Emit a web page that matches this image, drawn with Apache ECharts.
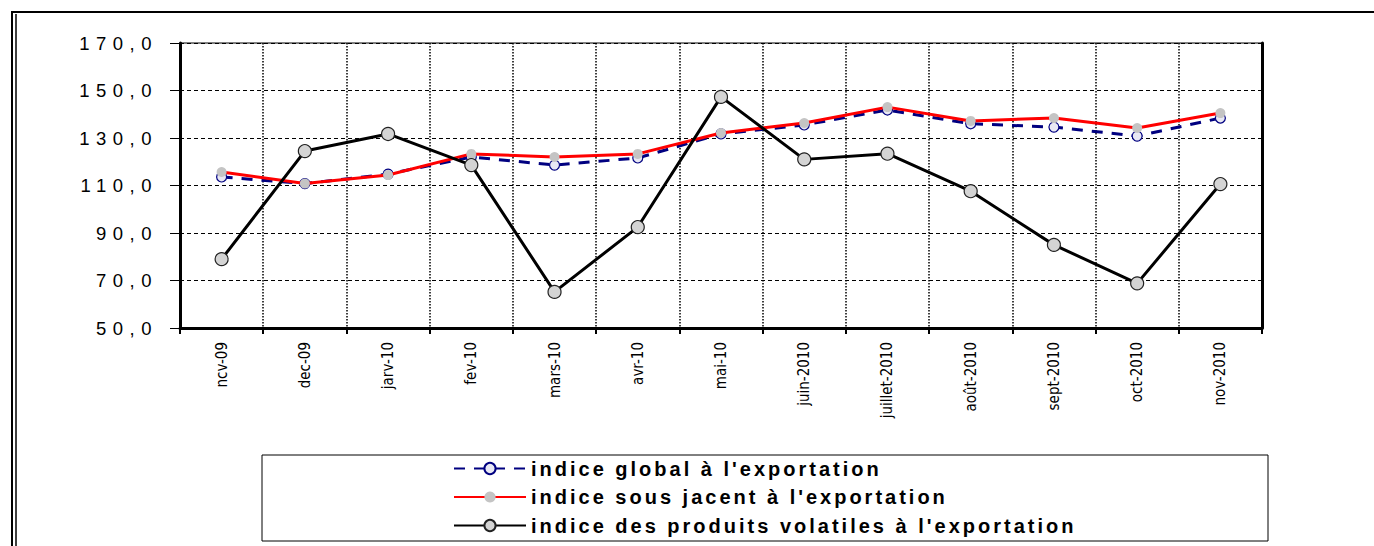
<!DOCTYPE html>
<html><head><meta charset="utf-8">
<style>html,body{margin:0;padding:0;background:#fff}#c{width:1374px;height:546px}
#c text[style*="18.5px"]{letter-spacing:6.5px}
#c text[style*="20px"]{letter-spacing:3px}
</style>
<script src="https://cdn.jsdelivr.net/npm/echarts@6/dist/echarts.min.js"></script>
</head><body><div id="c"></div>
<script>
const categories = ['ncv-09','dec-09','jarv-10','fev-10','mars-10','avr-10','mai-10','juin-2010','juillet-2010','août-2010','sept-2010','oct-2010','nov-2010'];
const globalIdx = [113.6,110.8,114.8,122.0,118.6,121.6,131.7,135.5,141.8,136.0,134.6,130.8,138.4];
const sousJacent = [115.7,110.8,114.4,123.3,122.0,123.3,132.1,136.3,143.0,137.2,138.4,134.2,140.5];
const volatiles = [79.0,124.5,131.7,118.6,65.2,92.5,147.3,121.0,123.4,107.6,85.0,68.8,110.6];
const yTicks = {min:50, max:170, interval:20};
const names = ["indice global à l'exportation","indice sous jacent à l'exportation","indice des produits volatiles à l'exportation"];

const chart = echarts.init(document.getElementById('c'), null, {renderer:'svg'});
chart.setOption({
  animation:false,
  backgroundColor:'#fff',
  grid:{left:180,right:112,top:43,bottom:218,show:true,borderColor:'#000',borderWidth:1},
  legend:{
    data:names, orient:'vertical', left:448, top:453, itemWidth:72, itemHeight:14, itemGap:7.5,
    textStyle:{fontFamily:'"Liberation Sans",Arial,sans-serif',fontWeight:'bold',fontSize:20,color:'#000',lineHeight:21}
  },
  xAxis:{
    type:'category', data:categories, boundaryGap:true,
    axisLine:{lineStyle:{color:'#000',width:3}},
    axisTick:{show:true,length:6,lineStyle:{color:'#000',width:2}},
    axisLabel:{rotate:90,margin:14,fontSize:15,color:'#000',fontFamily:'"Liberation Sans Narrow","DejaVu Sans Condensed","Liberation Sans",sans-serif'},
    splitLine:{show:true,lineStyle:{color:'#000',type:'dotted',width:1.5}}
  },
  yAxis:[{
    type:'value', min:yTicks.min, max:yTicks.max, interval:yTicks.interval,
    axisLine:{show:true,lineStyle:{color:'#000',width:3}},
    axisTick:{show:true,length:10,lineStyle:{color:'#000',width:1}},
    axisLabel:{margin:22,fontSize:18.5,color:'#000',fontFamily:'"Liberation Sans",Arial,sans-serif',
      formatter:v=>v.toFixed(1).replace('.',',')},
    splitLine:{show:true,lineStyle:{color:'#000',type:[4,3],width:1}}
  },{
    type:'value', position:'right', min:yTicks.min, max:yTicks.max, interval:yTicks.interval,
    axisLine:{show:true,lineStyle:{color:'#000',width:3}},
    axisTick:{show:false}, axisLabel:{show:false}, splitLine:{show:false}
  }],
  graphic:[
    {type:'line',shape:{x1:11,y1:12,x2:1374,y2:12},style:{stroke:'#000',lineWidth:2},silent:true},
    {type:'line',shape:{x1:12,y1:12,x2:12,y2:546},style:{stroke:'#000',lineWidth:2},silent:true},
    {type:'line',shape:{x1:16,y1:14,x2:16,y2:546},style:{stroke:'#000',lineWidth:1.5},silent:true},
    {type:'rect',shape:{x:262,y:455,width:1006,height:86},style:{fill:'none',stroke:'#000',lineWidth:1},silent:true}
  ],
  series:[
    {name:names[0],type:'line',data:globalIdx,symbol:'circle',symbolSize:10,z:2,
      lineStyle:{color:'#000080',width:3,type:[11,9]},
      itemStyle:{color:'#e8e8f4',borderColor:'#000080',borderWidth:1.2}},
    {name:names[1],type:'line',data:sousJacent,symbol:'circle',symbolSize:10,z:3,
      lineStyle:{color:'#ff0000',width:3},
      itemStyle:{color:'#c4c4c4',borderColor:'#c4c4c4',borderWidth:0}},
    {name:names[2],type:'line',data:volatiles,symbol:'circle',symbolSize:13,z:4,
      lineStyle:{color:'#000',width:3},
      itemStyle:{color:'#d4d4d4',borderColor:'#222',borderWidth:1.2}}
  ]
});
</script></body></html>
